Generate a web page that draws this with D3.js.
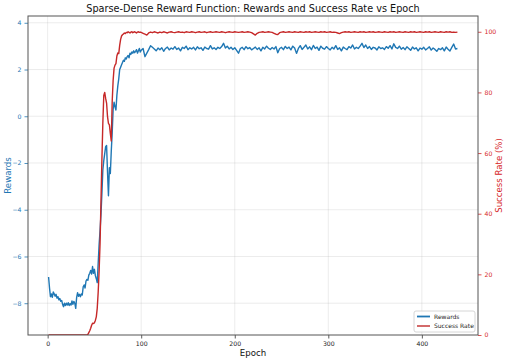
<!DOCTYPE html>
<html>
<head>
<meta charset="utf-8">
<script src="https://cdn.jsdelivr.net/npm/d3@7"></script>
<style>
  body { margin: 0; background: #fff; }
  svg { font-family: "DejaVu Sans", sans-serif; }
</style>
</head>
<body>
<svg id="chart" width="508" height="362"></svg>
<script>
// Epochs: every epoch up to 99, then every second epoch
var epochs = d3.range(1, 100).concat(d3.range(100, 439, 2));

// Average reward per epoch
var rewards = [
  // 1-20
  -6.88, -7.35, -7.72, -7.6, -7.75, -7.52, -7.6, -7.7, -7.62, -7.78,
  -7.72, -7.85, -7.8, -7.92, -7.88, -8.05, -8.15, -8.0, -8.1, -8.0,
  // 21-40
  -8.08, -7.98, -8.1, -8.02, -8.08, -7.9, -8.05, -7.92, -8.0, -8.22,
  -7.75, -7.55, -7.7, -7.62, -7.72, -7.6, -7.65, -7.3, -7.22, -7.35,
  // 41-60
  -7.05, -6.98, -7.02, -6.8, -6.72, -6.6, -6.75, -6.43, -6.72, -6.55,
  -6.82, -6.95, -7.12, -6.3, -5.5, -4.9, -4.2, -3.3, -2.3, -1.9,
  // 61-80
  -1.6, -1.3, -1.25, -2.4, -3.4, -2.2, -2.45, -1.5, -0.7, 0.3,
  0.6, 0.4, 0.27, 0.9, 1.3, 1.6, 2.0, 2.1, 2.2, 2.3,
  // 81-99
  2.4, 2.35, 2.5, 2.45, 2.55, 2.6, 2.5, 2.7, 2.65, 2.75,
  2.7, 2.8, 2.72, 2.78, 2.85, 2.7, 2.8, 2.9, 2.75,
  // 100-138 (step 2)
  2.82, 2.9, 2.55, 2.7, 2.85, 3.02, 2.95, 2.88, 2.8, 2.92,
  2.85, 2.93, 2.78, 2.9, 2.96, 2.84, 2.92, 2.87, 2.98, 2.86,
  // 140-178
  2.92, 2.8, 2.95, 2.9, 3.0, 2.85, 2.93, 2.88, 2.95, 2.84,
  2.97, 2.89, 2.93, 2.82, 2.96, 2.9, 2.87, 3.02, 2.88, 2.93,
  // 180-218
  2.86, 2.95, 2.9, 2.98, 3.12, 2.92, 3.0, 2.88, 2.95, 2.86,
  2.93, 2.82, 2.7, 2.9, 2.95, 2.85, 2.98, 2.89, 2.94, 2.84,
  // 220-258
  2.9, 2.96, 2.86, 2.93, 2.8, 2.95, 2.88, 3.0, 2.91, 2.86,
  2.94, 2.88, 2.98, 2.72, 2.9, 2.95, 2.85, 2.99, 2.9, 2.96,
  // 260-298
  2.84, 3.0, 2.92, 2.69, 2.9, 3.02, 2.86, 2.95, 3.05, 2.88,
  2.97, 2.85, 3.03, 2.9, 2.96, 2.82, 3.0, 2.91, 2.87, 2.98,
  // 300-338
  2.9, 2.84, 2.95, 2.88, 3.02, 2.86, 2.93, 2.8, 2.96, 2.9,
  2.85, 2.98, 2.92, 3.05, 2.88, 2.95, 2.9, 3.0, 3.12, 2.94,
  // 340-378
  3.05, 2.9, 2.98, 2.86, 2.95, 2.92, 2.84, 2.97, 2.9, 2.93,
  2.86, 2.98, 2.91, 3.02, 2.88, 3.1, 2.95, 2.9, 3.0, 2.87,
  // 380-418
  2.94, 2.85, 2.97, 2.9, 2.82, 2.96, 2.88, 2.93, 2.8, 2.92,
  2.87, 2.95, 2.84, 2.9, 2.97, 2.83, 2.92, 2.86, 2.78, 2.9,
  // 420-438
  2.85, 2.93, 2.8, 2.96, 2.87, 2.79, 2.95, 3.09, 2.88, 2.9
];

// Success rate (%) per epoch
var successRate = [
  // 1-42
  0, 0, 0, 0, 0, 0, 0, 0, 0, 0,
  0, 0, 0, 0, 0, 0, 0, 0, 0, 0,
  0, 0, 0, 0, 0, 0, 0, 0, 0, 0,
  0, 0, 0, 0, 0, 0, 0, 0, 0, 0,
  0, 0,
  // 43-60
  0.2, 0.8, 1.4, 2.2, 3.2, 3.9, 3.8, 4.0,
  4.8, 6.0, 8.8, 14, 21, 30, 44, 58, 70, 79,
  // 61-80
  80, 78, 76.5, 72, 69.8, 69.3, 66.5, 64, 77, 84,
  88, 89, 89.5, 92, 93, 92.8, 95.5, 97.5, 98.6, 99,
  // 81-99
  99.3, 99.6, 99.4, 99.8, 99.7, 100, 99.8, 99.6, 99.9, 100,
  99.7, 99.9, 100, 99.8, 99.6, 99.9, 100, 99.8, 99.9,
  // 100-138 (step 2)
  99.8, 99.5, 99.2, 98.9, 99.6, 99.9, 99.7, 100, 99.8, 99.6,
  99.9, 99.7, 100, 99.8, 99.6, 99.9, 100, 99.8, 99.7, 99.9,
  // 140-178
  100, 99.8, 99.9, 99.7, 100, 99.9, 99.8, 100, 99.9, 99.7,
  99.9, 100, 99.8, 99.9, 100, 99.7, 99.9, 100, 99.8, 99.9,
  // 180-218
  100, 99.9, 99.8, 100, 99.9, 99.7, 99.9, 100, 99.9, 99.8,
  100, 99.9, 99.8, 99.9, 100, 99.8, 99.9, 100, 99.9, 99.7,
  // 220-258
  99.3, 98.9, 99.5, 99.8, 99.9, 100, 99.8, 99.9, 100, 99.9,
  99.8, 99.5, 99.2, 99.1, 99.7, 99.9, 100, 99.8, 99.9, 100,
  // 260-298
  99.9, 99.8, 100, 99.9, 99.8, 100, 99.9, 99.8, 100, 99.9,
  100, 99.8, 99.9, 100, 99.9, 99.8, 100, 99.9, 100, 99.8,
  // 300-338
  99.9, 100, 99.8, 99.9, 99.8, 99.6, 99.4, 99.7, 99.9, 100,
  99.9, 100, 99.8, 99.9, 100, 99.9, 99.8, 100, 99.9, 100,
  // 340-378
  99.8, 99.9, 100, 99.9, 100, 99.8, 99.9, 100, 99.9, 99.8,
  100, 99.9, 99.8, 100, 99.9, 100, 99.8, 99.9, 100, 99.9,
  // 380-418
  99.8, 100, 99.9, 99.8, 100, 99.9, 100, 99.8, 99.9, 100,
  99.9, 99.8, 100, 99.9, 100, 99.8, 99.9, 100, 99.9, 99.8,
  // 420-438
  100, 99.9, 99.8, 100, 99.9, 100, 99.8, 99.9, 99.8, 99.9
];

var xTicks = [0, 100, 200, 300, 400];
var rewardTicks = [-8, -6, -4, -2, 0, 2, 4];
var rateTicks = [0, 20, 40, 60, 80, 100];
var seriesNames = ['Rewards', 'Success Rate'];

var blue = '#1f77b4',
    red = '#c62828',
    redText = '#d62728';

var margin = {left: 28, right: 30, top: 16, bottom: 27},
    width = 508,
    height = 362;

var svg = d3.select('#chart');

var x = d3.scaleLinear()
    .domain([-21, 460])
    .range([margin.left, width - margin.right]);

var yL = d3.scaleLinear()
    .domain([-9.36, 4.29])
    .range([height - margin.bottom, margin.top]);

var yR = d3.scaleLinear()
    .domain([0, 105.2])
    .range([height - margin.bottom, margin.top]);

var pts = epochs.map(function(e, i) {
    return {epoch: e, reward: rewards[i], rate: successRate[i]};
});

// grid
var grid = svg.append('g').attr('class', 'grid');
grid.selectAll('line.gx')
    .data(xTicks)
    .enter().append('line')
    .attr('x1', x).attr('x2', x)
    .attr('y1', margin.top).attr('y2', height - margin.bottom)
    .attr('stroke', '#b0b0b0').attr('stroke-opacity', 0.3).attr('stroke-width', 0.8);
grid.selectAll('line.gy')
    .data(rewardTicks)
    .enter().append('line')
    .attr('x1', margin.left).attr('x2', width - margin.right)
    .attr('y1', yL).attr('y2', yL)
    .attr('stroke', '#b0b0b0').attr('stroke-opacity', 0.3).attr('stroke-width', 0.8);

// lines
svg.append('clipPath').attr('id', 'plotclip')
    .append('rect')
    .attr('x', margin.left).attr('y', margin.top)
    .attr('width', width - margin.left - margin.right)
    .attr('height', height - margin.top - margin.bottom);

var plot = svg.append('g').attr('clip-path', 'url(#plotclip)');

plot.append('path')
    .datum(pts)
    .attr('fill', 'none')
    .attr('stroke', blue)
    .attr('stroke-width', 1.4)
    .attr('stroke-linejoin', 'round')
    .attr('d', d3.line().x(function(d) { return x(d.epoch); }).y(function(d) { return yL(d.reward); }));

plot.append('path')
    .datum(pts)
    .attr('fill', 'none')
    .attr('stroke', red)
    .attr('stroke-width', 1.4)
    .attr('stroke-linejoin', 'round')
    .attr('d', d3.line().x(function(d) { return x(d.epoch); }).y(function(d) { return yR(d.rate); }));

// axes
var xAxis = svg.append('g')
    .attr('transform', 'translate(0,' + (height - margin.bottom) + ')')
    .call(d3.axisBottom(x).tickValues(xTicks).tickSize(3.5).tickPadding(3));

var leftAxis = svg.append('g')
    .attr('transform', 'translate(' + margin.left + ',0)')
    .call(d3.axisLeft(yL).tickValues(rewardTicks).tickSize(3.5).tickPadding(3)
        .tickFormat(function(d) { return d < 0 ? '\u2212' + Math.abs(d) : d; }));

var rightAxis = svg.append('g')
    .attr('transform', 'translate(' + (width - margin.right) + ',0)')
    .call(d3.axisRight(yR).tickValues(rateTicks).tickSize(3.5).tickPadding(3));

[xAxis, leftAxis, rightAxis].forEach(function(a) {
    a.select('.domain').remove();
    a.selectAll('text').style('font-size', '6.2px').style('font-family', '"DejaVu Sans", sans-serif');
    a.selectAll('line').attr('stroke', '#333').attr('stroke-width', 0.8);
});
xAxis.selectAll('text').attr('fill', '#222');
leftAxis.selectAll('text').attr('fill', blue);
leftAxis.selectAll('line').attr('stroke', blue);
rightAxis.selectAll('text').attr('fill', redText);
rightAxis.selectAll('line').attr('stroke', redText);

// frame
svg.append('rect')
    .attr('x', margin.left).attr('y', margin.top)
    .attr('width', width - margin.left - margin.right)
    .attr('height', height - margin.top - margin.bottom)
    .attr('fill', 'none')
    .attr('stroke', '#555')
    .attr('stroke-width', 1);

// title and labels
svg.append('text')
    .attr('x', (margin.left + width - margin.right) / 2)
    .attr('y', 12)
    .attr('text-anchor', 'middle')
    .style('font-size', '9.7px')
    .attr('fill', '#111')
    .text('Sparse-Dense Reward Function: Rewards and Success Rate vs Epoch');

svg.append('text')
    .attr('x', (margin.left + width - margin.right) / 2)
    .attr('y', 355.5)
    .attr('text-anchor', 'middle')
    .style('font-size', '8.6px')
    .attr('fill', '#111')
    .text('Epoch');

svg.append('text')
    .attr('transform', 'translate(11,' + ((margin.top + height - margin.bottom) / 2) + ') rotate(-90)')
    .attr('text-anchor', 'middle')
    .style('font-size', '8.6px')
    .attr('fill', blue)
    .text('Rewards');

svg.append('text')
    .attr('transform', 'translate(502,' + ((margin.top + height - margin.bottom) / 2) + ') rotate(-90)')
    .attr('text-anchor', 'middle')
    .style('font-size', '8.6px')
    .attr('fill', redText)
    .text('Success Rate (%)');

// legend
var legend = svg.append('g').attr('transform', 'translate(414,311)');
legend.append('rect')
    .attr('width', 61).attr('height', 21)
    .attr('rx', 2)
    .attr('fill', '#fff').attr('fill-opacity', 0.8)
    .attr('stroke', '#ccc').attr('stroke-width', 0.8);

var items = legend.selectAll('g.item')
    .data(seriesNames)
    .enter().append('g')
    .attr('transform', function(d, i) { return 'translate(3,' + (5.5 + i * 9.5) + ')'; });
items.append('line')
    .attr('x1', 0).attr('x2', 13)
    .attr('stroke', function(d, i) { return i === 0 ? blue : '#cf5a5a'; })
    .attr('stroke-width', 1.8);
items.append('text')
    .attr('x', 17).attr('y', 2.2)
    .style('font-size', '6px')
    .attr('fill', '#222')
    .text(function(d) { return d; });
</script>
</body>
</html>
